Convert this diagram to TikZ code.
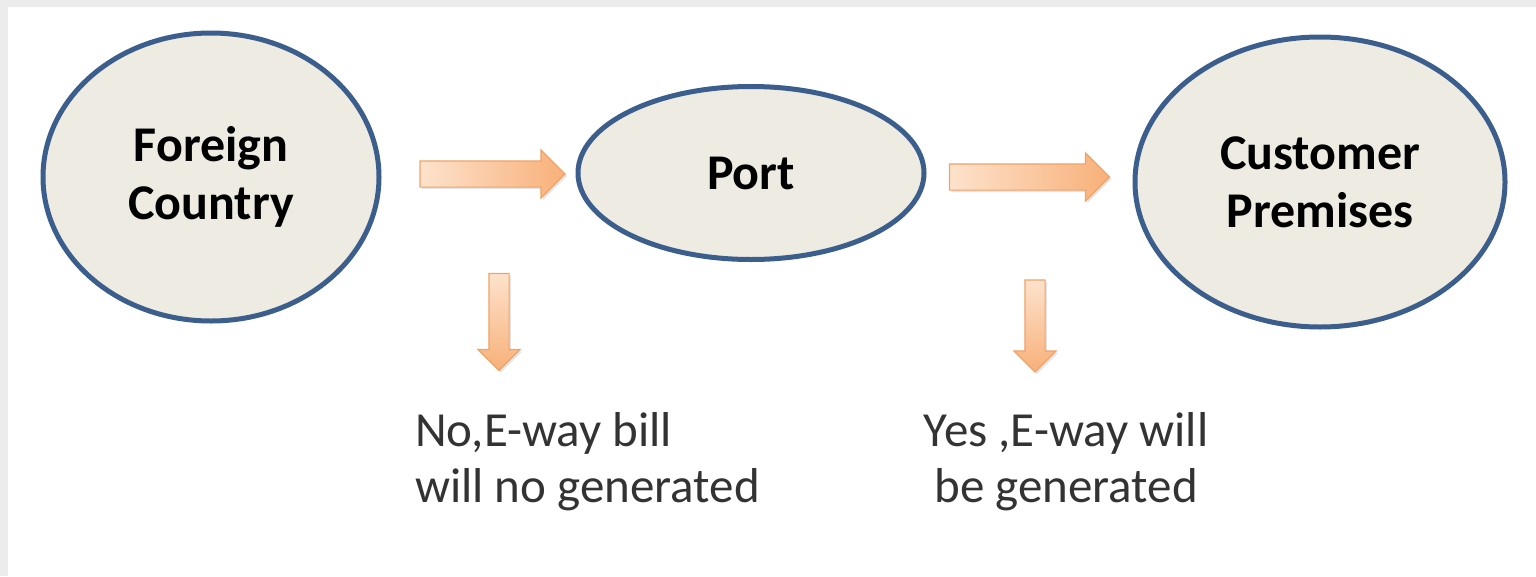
\documentclass[tikz,border=0pt]{standalone}
\usepackage{fontspec}
\setmainfont{Carlito}
\usetikzlibrary{shapes.geometric,shapes.arrows,shadows}
\definecolor{ringblue}{HTML}{3B5E8C}
\definecolor{ringfill}{HTML}{EEEBE2}
\definecolor{arrlight}{HTML}{FDE2CC}
\definecolor{arrdark}{HTML}{F8B079}
\definecolor{arrline}{HTML}{EFA468}
\definecolor{txtgray}{HTML}{333333}
\definecolor{bggray}{HTML}{ECECEC}
\tikzset{
  place/.style={ellipse, draw=ringblue, line width=5pt, fill=ringfill, align=center,
    font=\fontsize{50}{58}\selectfont\bfseries, text=black, inner sep=0pt},
  flowarrow/.style={single arrow, draw=arrline, line width=1.2pt,
    single arrow head extend=11pt, single arrow tip angle=90,
    drop shadow={opacity=0.2, shadow xshift=2pt, shadow yshift=-2pt}},
  rightarrow/.style={flowarrow, inner sep=12.5pt, left color=arrlight, right color=arrdark,
    minimum height=145pt},
  downarrow/.style={flowarrow, inner sep=9.5pt, shape border rotate=270, top color=arrlight, bottom color=arrdark,
    minimum height=97pt},
  note/.style={font=\fontsize{49}{56}\selectfont, text=txtgray, inner sep=0pt}
}
\begin{document}
\begin{tikzpicture}[x=1pt,y=-1pt]
\useasboundingbox (0,0) rectangle (1536,576);
\fill[bggray] (0,0) rectangle (1536,576);
\fill[white] (8,7) rectangle (1536,576);

\node[place, minimum width=336pt, minimum height=288pt] (fc) at (211,177) {Foreign\\Country};
\node[place, minimum width=346pt, minimum height=173pt] (port) at (751,173) {Port};
\node[place, minimum width=370pt, minimum height=290pt] (cp) at (1320,182) {Customer\\Premises};

\node[rightarrow] (a1) at (486,174) {};
\node[rightarrow, minimum height=160pt] (a2) at (1023,177) {};
\node[downarrow] (d1) at (499,317) {};
\node[downarrow, minimum height=92pt] (d2) at (1035,321) {};

\node[note, align=left, anchor=north west] (n1) at (415,412) {No,E-way bill\\will no generated};
\node[note, align=center, anchor=north] (n2) at (1066,412) {Yes ,E-way will\\be generated};
\end{tikzpicture}
\end{document}
